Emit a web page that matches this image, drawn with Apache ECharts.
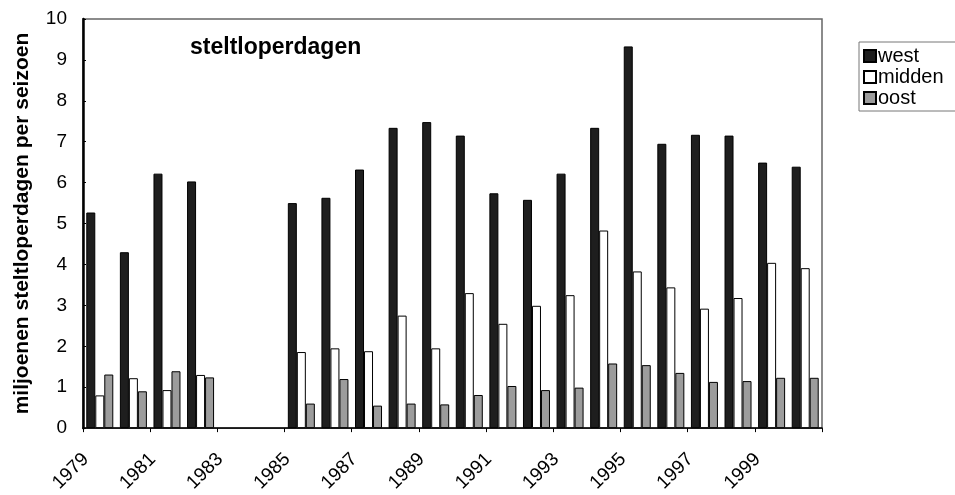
<!DOCTYPE html>
<html>
<head>
<meta charset="utf-8">
<script src="https://cdn.jsdelivr.net/npm/echarts@6/dist/echarts.min.js"></script>
<style>
  html, body { margin: 0; padding: 0; background: #fff; }
  #chart { width: 955px; height: 495px; }
</style>
</head>
<body>
<div id="chart"></div>
<script>
const years = ['1979', '1980', '1981', '1982', '1983', '1984', '1985', '1986', '1987', '1988', '1989',
  '1990', '1991', '1992', '1993', '1994', '1995', '1996', '1997', '1998', '1999', '2000']
// miljoenen steltloperdagen per seizoen; null = geen telling
const west = [5.27, 4.3, 6.22, 6.03, null, null, 5.5, 5.63, 6.32, 7.34, 7.48,
  7.15, 5.74, 5.58, 6.22, 7.34, 9.33, 6.95, 7.17, 7.15, 6.49, 6.39]
const midden = [0.8, 1.22, 0.93, 1.3, null, null, 1.86, 1.95, 1.88, 2.75, 1.95,
  3.3, 2.55, 2.99, 3.25, 4.83, 3.83, 3.44, 2.92, 3.18, 4.04, 3.91]
const oost = [1.31, 0.9, 1.39, 1.24, null, null, 0.6, 1.2, 0.55, 0.6, 0.58,
  0.81, 1.03, 0.93, 0.99, 1.58, 1.54, 1.35, 1.13, 1.15, 1.23, 1.23]

const font = 'Liberation Sans, Arial, sans-serif'
const chart = echarts.init(document.getElementById('chart'))

const barStyle = (fill) => ({
  color: fill,
  borderColor: '#000',
  borderWidth: 1
})

chart.setOption({
  animation: false,
  textStyle: { fontFamily: font },
  title: {
    text: 'steltloperdagen',
    left: 185,
    top: 31,
    textStyle: { fontSize: 23, fontWeight: 'bold', color: '#000', fontFamily: font }
  },
  legend: {
    orient: 'vertical',
    left: 859,
    top: 42,
    padding: [4, 14, 3, 4],
    borderColor: '#777',
    borderWidth: 1,
    itemWidth: 12,
    itemHeight: 12,
    itemGap: 1,
    icon: 'rect',
    textStyle: { fontSize: 20, lineHeight: 20, color: '#000', padding: [0, 0, 0, -3] },
    data: ['west', 'midden', 'oost']
  },
  grid: {
    left: 83,
    right: 133,
    top: 19,
    bottom: 66,
    show: true,
    borderColor: '#666',
    borderWidth: 1.5
  },
  xAxis: {
    type: 'category',
    data: years,
    axisLine: { lineStyle: { color: '#000', width: 1.5 } },
    axisTick: { show: true, length: 4, lineStyle: { color: '#000' } },
    axisLabel: {
      interval: 1,
      rotate: 45,
      fontSize: 19,
      color: '#000',
      margin: 14,
      padding: [0, 20, 0, 0]
    }
  },
  yAxis: {
    type: 'value',
    min: 0,
    max: 10,
    interval: 1,
    name: 'miljoenen steltloperdagen per seizoen',
    nameLocation: 'middle',
    nameGap: 50,
    nameTextStyle: { fontSize: 21, fontWeight: 'bold', color: '#000' },
    axisLine: { show: true, lineStyle: { color: '#000', width: 2.5 } },
    axisTick: { show: true, inside: true, length: 3, lineStyle: { color: '#000' } },
    axisLabel: { fontSize: 19, color: '#000', margin: 16 },
    splitLine: { show: false }
  },
  series: [
    {
      name: 'west',
      type: 'bar',
      data: west,
      barWidth: 9,
      barGap: '0%',
      itemStyle: barStyle('#1e1e1e')
    },
    {
      name: 'midden',
      type: 'bar',
      data: midden,
      barWidth: 9,
      barGap: '0%',
      itemStyle: barStyle('#ffffff')
    },
    {
      name: 'oost',
      type: 'bar',
      data: oost,
      barWidth: 9,
      barGap: '0%',
      itemStyle: barStyle('#9c9c9c')
    }
  ]
})
</script>
</body>
</html>
